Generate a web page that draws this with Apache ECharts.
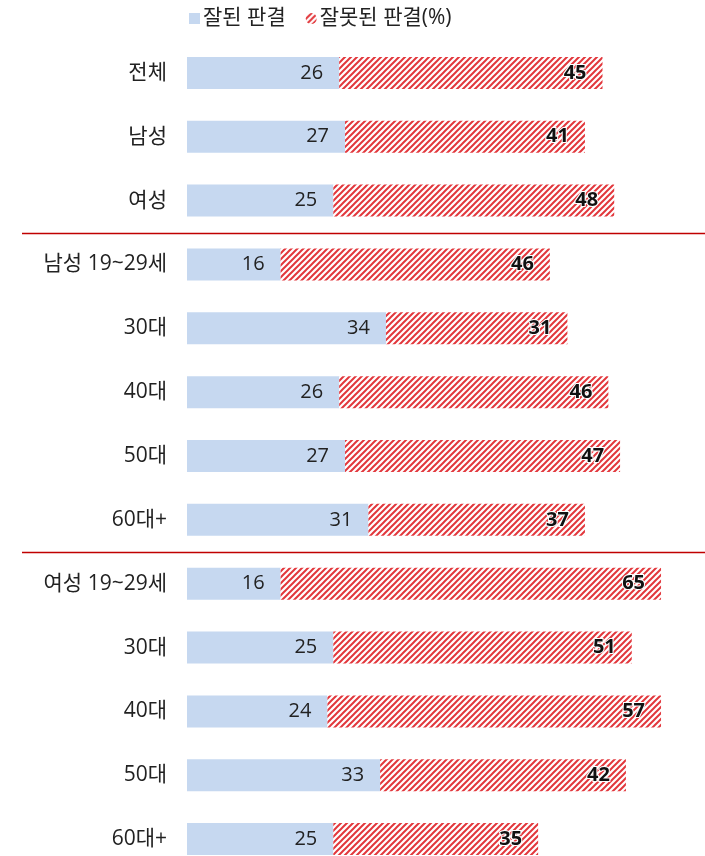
<!DOCTYPE html>
<html>
<head>
<meta charset="utf-8">
<script src="https://cdn.jsdelivr.net/npm/echarts@6/dist/echarts.min.js"></script>
<style>
  html, body { margin: 0; padding: 0; background: #fff; }
  #chart { width: 705px; height: 856px; }
</style>
</head>
<body>
<div id="chart"></div>
<script>
// 응답자 그룹
const categories = ['전체', '남성', '여성', '남성 19~29세', '30대', '40대', '50대', '60대+',
  '여성 19~29세', '30대', '40대', '50대', '60대+'];
const seriesNames = ['잘된 판결', '잘못된 판결(%)'];
const goodValues = [26, 27, 25, 16, 34, 26, 27, 31, 16, 25, 24, 33, 25];
const badValues = [45, 41, 48, 46, 31, 46, 47, 37, 65, 51, 57, 42, 35];
// 구분선이 들어가는 위치 (이 인덱스 앞)
const dividerBefore = [3, 8];

const FONT = '"Open Sans", "Noto Sans CJK KR", sans-serif';

// 빗금 패턴
function makeHatch() {
  const s = 6;
  const c = document.createElement('canvas');
  c.width = s; c.height = s;
  const ctx = c.getContext('2d');
  ctx.fillStyle = '#fff';
  ctx.fillRect(0, 0, s, s);
  ctx.strokeStyle = '#e2373c';
  ctx.lineWidth = 2;
  ctx.beginPath();
  ctx.moveTo(0, s); ctx.lineTo(s, 0);
  ctx.moveTo(-s / 2, s / 2); ctx.lineTo(s / 2, -s / 2);
  ctx.moveTo(s / 2, s * 1.5); ctx.lineTo(s * 1.5, s / 2);
  ctx.stroke();
  return c;
}
const hatch = { image: makeHatch(), repeat: 'repeat' };

const chart = echarts.init(document.getElementById('chart'));

const option = {
  animation: false,
  textStyle: { fontFamily: FONT },
  legend: {
    top: 3,
    left: 184,
    itemWidth: 11,
    itemHeight: 11,
    itemGap: 20,
    textStyle: { fontSize: 21, color: '#222', fontFamily: FONT, padding: [0, 0, 0, -2] },
    data: [
      { name: seriesNames[0], icon: 'rect' },
      { name: seriesNames[1], icon: 'circle' }
    ]
  },
  grid: { left: 187, right: 3, top: 41, height: 830, outerBoundsMode: 'none' },
  xAxis: {
    type: 'value',
    min: 0,
    max: 88,
    show: false
  },
  yAxis: {
    type: 'category',
    inverse: true,
    data: categories,
    axisLine: { show: false },
    axisTick: { show: false },
    axisLabel: { fontSize: 21, color: '#222', margin: 20, fontFamily: FONT }
  },
  series: [
    {
      name: seriesNames[0],
      type: 'bar',
      stack: 'a',
      barWidth: 32,
      data: goodValues,
      itemStyle: { color: '#c6d8f0' },
      label: {
        show: true,
        position: 'insideRight',
        distance: 16,
        fontSize: 20,
        color: '#222',
        fontFamily: FONT
      }
    },
    {
      name: seriesNames[1],
      type: 'bar',
      stack: 'a',
      barWidth: 32,
      data: badValues,
      itemStyle: { color: hatch },
      label: {
        show: true,
        position: 'insideRight',
        distance: 16,
        fontSize: 20,
        fontWeight: 'bold',
        color: '#111',
        textBorderColor: '#fff',
        textBorderWidth: 2,
        fontFamily: FONT
      }
    }
  ]
};

chart.setOption(option);

// 그룹 구분선
const lines = dividerBefore.map(function (i) {
  const y0 = chart.convertToPixel({ yAxisIndex: 0 }, i - 1);
  const y1 = chart.convertToPixel({ yAxisIndex: 0 }, i);
  const y = Math.round((y0 + y1) / 2) + 0.5;
  return {
    type: 'line',
    shape: { x1: 22, y1: y, x2: 705, y2: y },
    style: { stroke: '#c00000', lineWidth: 1.5 }
  };
});
chart.setOption({ graphic: lines });

window.addEventListener('resize', () => chart.resize());
</script>
</body>
</html>
